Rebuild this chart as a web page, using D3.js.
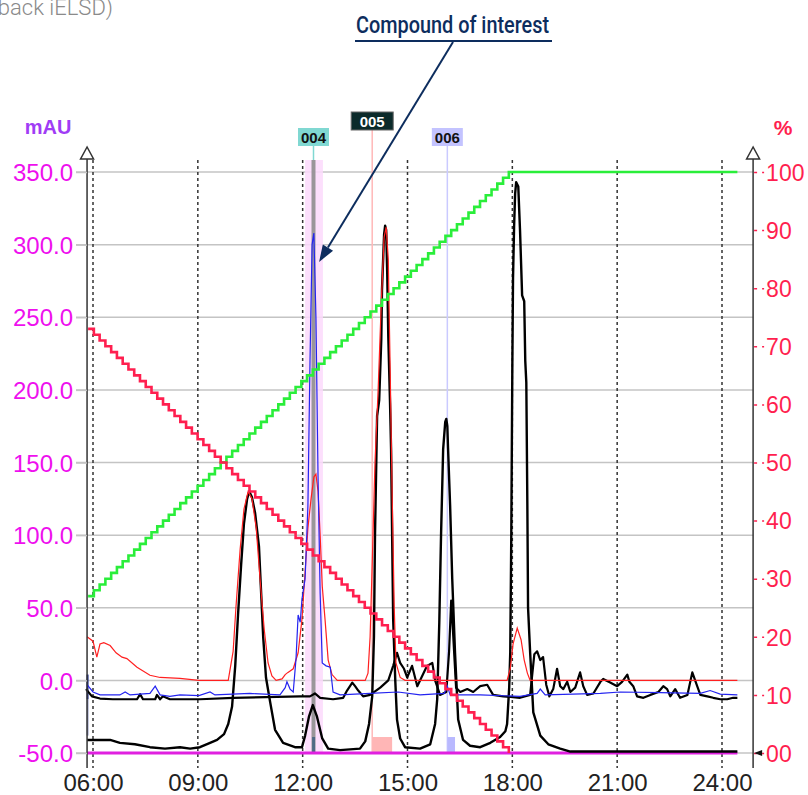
<!DOCTYPE html>
<html><head><meta charset="utf-8">
<script src="https://cdn.jsdelivr.net/npm/d3@7/dist/d3.min.js"></script>
<style>body{margin:0;background:#fff}svg{display:block}</style>
</head><body><svg id="c" width="808" height="795"></svg>
<script>
// ---------- data ----------
const timeTicks = [6, 9, 12, 15, 18, 21, 24];
const mauTicks = [350, 300, 250, 200, 150, 100, 50, 0, -50];
const pctTicks = [100, 90, 80, 70, 60, 50, 40, 30, 20, 10, 0];

const gradientB = [[5.86, 27], [17.9, 100], [24.44, 100]];
const gradientA = [[5.86, 73], [17.9, 0]];
const baselineMagenta = [[5.83, -50], [24.44, -50]];

const uvRed = [[5.83,30],[6.00,27],[6.11,16],[6.20,25],[6.31,26],[6.49,24],[6.66,19],[6.83,16],[6.97,15],[7.26,9],[7.63,3.5],[7.92,2],[8.49,1.4],[9.03,0],
 [9.87,0],[10.01,20],[10.09,50],[10.21,90],[10.32,118],[10.44,130],[10.55,125],[10.67,105],[10.78,70],[10.90,35],[11.01,12],[11.12,3],[11.24,0],
 [11.41,1],[11.50,4],[11.58,5.5],[11.73,8],[11.87,19],[11.98,42],[12.07,75],[12.15,105],[12.24,125],[12.32,140],[12.38,142],[12.44,130],[12.50,100],[12.56,65],[12.64,42],[12.73,14],[12.84,4],[12.99,0],
 [13.79,0],[13.87,5],[13.93,30],[13.99,80],[14.07,150],[14.16,200],[14.25,260],[14.33,305],[14.39,312],[14.45,290],[14.50,220],[14.56,130],[14.62,50],[14.67,12],[14.79,2],[14.93,0],
 [17.85,0],[17.94,8],[18.02,25],[18.14,36],[18.25,28],[18.34,14],[18.43,5],[18.51,0],[24.44,0]];

const uvBlue = [[5.83,-3],[6.00,-8],[6.20,-10],[6.77,-10],[6.92,-8],[7.06,-10],[7.63,-9],[7.78,-4],[7.92,-10],[8.20,-11],[8.49,-10],[9.03,-10.5],[9.35,-8],[9.49,-10],[10.49,-9],
 [11.35,-10],[11.50,-5],[11.55,-1],[11.64,-6],[11.73,-8],[11.81,15],[11.87,45],[11.93,40],[11.98,56],[12.07,70],[12.15,120],[12.21,220],[12.27,300],[12.32,308],[12.38,250],[12.44,140],[12.50,60],[12.56,12],[12.67,10],[12.79,9],[12.87,-8],
 [13.07,-10],[13.93,-9],[14.73,-8],[15.36,-10],[16.05,-9],[16.14,-4],[16.22,-10],[17.08,-10],[18.22,-11],[18.71,-9],[18.80,-6],[18.94,-10],[20.52,-9],[21.09,-8],[22.23,-8.5],[23.38,-9],[23.66,-7],[23.95,-9.5],[24.44,-10]];

const traceUpper = [[5.80,-6],[5.97,-11],[6.20,-12.5],[6.57,-13],[7.26,-13],[7.35,-9.5],[7.43,-13],[7.78,-13],[7.83,-10],[7.92,-13],[8.00,-11],[8.20,-13],[9.06,-13],[10.01,-12],[11.93,-11],[12.21,-11],[12.35,-9],[12.50,-12],[12.87,-13],
 [13.16,-12],[13.27,-7],[13.42,-1.5],[13.50,-4],[13.59,-7],[13.73,-11],[13.93,-10],[14.22,-5],[14.45,0],[14.59,10],[14.70,19],[14.79,12],[14.90,8],[14.99,2],[15.13,10],[15.28,-4],[15.42,3],[15.56,10],[15.71,12],[15.79,0],[15.93,-10],
 [16.11,-8],[16.19,20],[16.25,55],[16.31,30],[16.39,-5],[16.51,-8],[16.71,-6],[16.88,-8],[17.08,-4],[17.28,-3],[17.45,-10],[17.74,-11],[18.22,-12],[18.51,-10],[18.63,18],[18.71,20],[18.80,14],[18.88,16],[18.97,-3],[19.06,-11],
 [19.17,-6],[19.28,8],[19.37,-4],[19.46,-6],[19.57,-1],[19.66,-8],[19.80,-5],[19.94,5.5],[20.03,-4],[20.14,-10],[20.32,-9],[20.52,-1],[20.60,1],[20.80,-1.5],[21.00,-4],[21.14,-1],[21.29,4],[21.35,-1],[21.46,-4],[21.57,-11],
 [21.75,-12],[21.95,-10],[22.18,-8],[22.32,-4],[22.43,-6],[22.52,-11],[22.66,-6],[22.80,-12],[23.01,-10],[23.15,5.5],[23.29,-4],[23.38,-10],[23.58,-11],[23.75,-12],[23.95,-13],[24.15,-13],[24.32,-12],[24.44,-12]];

const elsd = [[5.83,-41],[6.20,-41],[6.49,-41],[6.77,-43],[7.20,-44],[7.63,-46],[8.06,-47],[8.49,-46],[8.78,-47],[9.06,-46],[9.35,-43],[9.55,-41],[9.75,-37],[9.87,-30],[9.98,-18],
 [10.07,10],[10.15,45],[10.24,80],[10.32,108],[10.41,125],[10.47,130],[10.55,126],[10.64,115],[10.75,92],[10.87,30],[10.95,2],[11.07,-15],[11.21,-34],[11.44,-43],[11.78,-46],
 [11.98,-46],[12.07,-38],[12.18,-25],[12.29,-17],[12.41,-25],[12.56,-40],[12.73,-47],[13.07,-48],[13.64,-47],[13.79,-42],[13.90,-30],[13.99,-11],
 [14.04,30],[14.07,100],[14.13,182],[14.19,193],[14.25,235],[14.27,269],[14.33,307],[14.36,313],[14.39,310],[14.42,280],[14.45,237],[14.50,191],[14.53,159],[14.56,100],[14.59,42],[14.65,0],[14.70,-27],[14.79,-40],[14.93,-46],
 [15.36,-47],[15.65,-44],[15.79,-30],[15.85,-13],[15.91,40],[15.96,100],[16.02,159],[16.08,178],[16.11,180],[16.14,175],[16.16,160],[16.22,120],[16.28,70],[16.36,19],[16.45,-27],[16.59,-41],[16.79,-45],
 [17.08,-46],[17.37,-43],[17.65,-39],[17.80,-35],[17.85,-30],[17.91,-5],[17.94,19],[17.97,100],[18.00,216],[18.02,277],[18.05,312],[18.08,335],[18.11,343],[18.17,340],[18.22,310],[18.28,265],[18.34,261],[18.37,220],[18.40,205],[18.43,120],[18.45,50],[18.51,19],
 [18.60,-22],[18.80,-38],[19.03,-44],[19.37,-47],[19.66,-49],[24.44,-49]];

const fractionIds = ["004", "005", "006"];
const fractionTimes = [12.31, 13.99, 16.14];
const fractionCollectStart = [12.27, 13.99, 16.14];
const fractionCollectEnd = [12.35, 14.56, 16.36];
const highlightBand = [12.07, 12.58];
const annotationText = "Compound of interest";
const annotationTarget = [12.47, 288];

// ---------- scales ----------
const svg = d3.select("#c");
const x = d3.scaleLinear().domain([6, 24]).range([93, 722]);
const yL = d3.scaleLinear().domain([-50, 350]).range([753, 172]);
const yR = d3.scaleLinear().domain([0, 100]).range([753, 172]);
const xLeft = x(5.83), xRight = x(24.89);
const topY = 160, botY = 768;
const FONT = "'Liberation Sans', Arial, sans-serif";

// top-left cut text
svg.append("text").attr("x", 113).attr("y", 15).attr("text-anchor", "end")
  .attr("font-family", "Roboto, sans-serif").attr("font-weight", 300).attr("font-size", 22)
  .attr("fill", "#8a8a8a").text("(UV feedback iELSD)");

// gridlines
svg.append("g").selectAll("line").data(mauTicks).join("line")
  .attr("x1", 76).attr("x2", xRight).attr("y1", d => yL(d)).attr("y2", d => yL(d))
  .attr("stroke", "#c4c4c4").attr("stroke-width", 1.5);

// highlight band for fraction 004
svg.append("rect").attr("x", x(highlightBand[0])).attr("width", x(highlightBand[1]) - x(highlightBand[0]))
  .attr("y", topY).attr("height", yL(-50) - topY).attr("fill", "#fbd9fb").attr("opacity", 0.85);

// fraction lines
const fracLineColor = ["#8a8a8a", "#ffb8b8", "#cacaff"];
const fracLineW = [4, 1.5, 1.5];
const fracLabelFill = ["#80d8d2", "#0b2a2a", "#c3c3ff"];
const fracTextFill = ["#111", "#fff", "#111"];
const fracLabelY = [128, 112, 128];
const fracLabelW = [31, 42, 31];
const fracCollectFill = ["#4e6a85", "#ffb6b6", "#b9b9ff"];
fractionIds.forEach((id, i) => {
  const fx = x(fractionTimes[i]);
  svg.append("line").attr("x1", fx).attr("x2", fx).attr("y1", fracLabelY[i] + 18).attr("y2", topY)
    .attr("stroke", i === 0 ? "#80d8d2" : fracLineColor[i]).attr("stroke-width", 1.5);
  svg.append("line").attr("x1", fx).attr("x2", fx).attr("y1", topY).attr("y2", yL(-50))
    .attr("stroke", fracLineColor[i]).attr("stroke-width", fracLineW[i]).attr("opacity", i === 0 ? 0.85 : 1);
  svg.append("rect").attr("x", x(fractionCollectStart[i])).attr("width", Math.max(3, x(fractionCollectEnd[i]) - x(fractionCollectStart[i])))
    .attr("y", yL(-39)).attr("height", yL(-50) - yL(-39)).attr("fill", fracCollectFill[i]);
});

// dashed verticals
svg.append("g").selectAll("line").data(timeTicks).join("line")
  .attr("x1", d => x(d)).attr("x2", d => x(d)).attr("y1", topY).attr("y2", botY)
  .attr("stroke", "#333").attr("stroke-width", 1.5).attr("stroke-dasharray", "3,3");

// start marker at left
svg.append("line").attr("x1", xLeft + 0.5).attr("x2", xLeft + 0.5).attr("y1", yL(4)).attr("y2", yL(-13)).attr("stroke", "#1a2a8a").attr("stroke-width", 2);
svg.append("line").attr("x1", xLeft + 0.5).attr("x2", xLeft + 0.5).attr("y1", yL(-13)).attr("y2", yL(-38)).attr("stroke", "#9aa0c8").attr("stroke-width", 2);

// series lines
const lineL = d3.line().x(d => x(d[0])).y(d => yL(d[1]));
svg.append("path").datum(baselineMagenta).attr("d", lineL).attr("fill", "none").attr("stroke", "#e020e0").attr("stroke-width", 3);
svg.append("path").datum(elsd).attr("d", lineL).attr("fill", "none").attr("stroke", "#000").attr("stroke-width", 2.4).attr("stroke-linejoin", "round");
svg.append("path").datum(traceUpper).attr("d", lineL).attr("fill", "none").attr("stroke", "#000").attr("stroke-width", 2.2).attr("stroke-linejoin", "round");
svg.append("path").datum(uvRed).attr("d", lineL).attr("fill", "none").attr("stroke", "#ff2020").attr("stroke-width", 1.2);
svg.append("path").datum(uvBlue).attr("d", lineL).attr("fill", "none").attr("stroke", "#2424f0").attr("stroke-width", 1.2);

// stair-rendered gradient lines
function curveStair(context) {
  let pts;
  return {
    areaStart() {}, areaEnd() {},
    lineStart() { pts = []; },
    point(px, py) { pts.push([+px, +py]); },
    lineEnd() {
      if (!pts.length) return;
      context.moveTo(pts[0][0], pts[0][1]);
      for (let i = 1; i < pts.length; i++) {
        const [x0, y0] = pts[i - 1], [x1, y1] = pts[i];
        if (Math.abs(y1 - y0) < 0.5) { context.lineTo(x1, y1); continue; }
        const n = Math.max(1, Math.round(Math.abs(y1 - y0) / 5.8));
        for (let k = 1; k <= n; k++) {
          const xk = x0 + (x1 - x0) * k / n, yk = y0 + (y1 - y0) * k / n, yp = y0 + (y1 - y0) * (k - 1) / n;
          context.lineTo(xk, yp); context.lineTo(xk, yk);
        }
      }
    }
  };
}
const lineR = d3.line().x(d => x(d[0])).y(d => yR(d[1])).curve(curveStair);
svg.append("path").datum(gradientB).attr("d", lineR).attr("fill", "none").attr("stroke", "#2aee3a").attr("stroke-width", 2.6);
svg.append("path").datum(gradientA).attr("d", lineR).attr("fill", "none").attr("stroke", "#ff1f4f").attr("stroke-width", 2.6);

// fraction labels
fractionIds.forEach((id, i) => {
  const fx = x(fractionTimes[i]);
  svg.append("rect").attr("x", fx - fracLabelW[i] / 2).attr("y", fracLabelY[i]).attr("width", fracLabelW[i]).attr("height", 18)
    .attr("fill", fracLabelFill[i]).attr("stroke", i === 1 ? "#666" : "none");
  svg.append("text").attr("x", fx).attr("y", fracLabelY[i] + 14.5).attr("text-anchor", "middle")
    .attr("font-family", FONT).attr("font-weight", "bold").attr("font-size", 15).attr("fill", fracTextFill[i]).text(id);
});

// axes lines with arrows
[xLeft, xRight].forEach(ax => {
  svg.append("line").attr("x1", ax).attr("x2", ax).attr("y1", 159).attr("y2", botY).attr("stroke", "#333").attr("stroke-width", 1.5);
  svg.append("path").attr("d", `M${ax},147 L${ax - 6.5},159 L${ax + 6.5},159 Z`).attr("fill", "#fff").attr("stroke", "#333").attr("stroke-width", 1.5);
});

// left axis
const gL = svg.append("g").attr("transform", `translate(${xLeft},0)`)
  .call(d3.axisLeft(yL).tickValues(mauTicks).tickFormat(d => d.toFixed(1)).tickSize(11).tickPadding(3));
gL.select(".domain").remove();
gL.selectAll(".tick line").attr("stroke", "#c4c4c4").attr("stroke-width", 1.5);
gL.selectAll(".tick text").attr("fill", "#ee10ee").attr("font-family", FONT).attr("font-size", 24).attr("dy", "0.36em");
svg.append("text").attr("x", 48).attr("y", 134).attr("text-anchor", "middle").attr("font-family", FONT)
  .attr("font-weight", "bold").attr("font-size", 20).attr("fill", "#a03cf5").text("mAU");

// right axis
const gR = svg.append("g").attr("transform", `translate(${xRight + 1},0)`)
  .call(d3.axisRight(yR).tickValues(pctTicks).tickFormat(d => String(d).padStart(2, "0")).tickSize(10).tickPadding(2));
gR.select(".domain").remove();
gR.selectAll(".tick line").attr("stroke", "#ff1f4f").attr("stroke-width", 1.5).attr("stroke-dasharray", "3,5,2,10");
gR.selectAll(".tick text").attr("fill", "#ff1f4f").attr("font-family", FONT).attr("font-size", 23).attr("dy", "0.36em");
svg.append("text").attr("x", 783).attr("y", 135).attr("text-anchor", "middle").attr("font-family", FONT)
  .attr("font-weight", "bold").attr("font-size", 21).attr("fill", "#ff1f4f").text("%");
svg.append("path").attr("d", `M${xRight + 1},${yR(0)} L${xRight + 9},${yR(0) - 3} L${xRight + 9},${yR(0) + 3} Z`).attr("fill", "#111");

// bottom axis
const gB = svg.append("g").attr("transform", `translate(0,${botY})`)
  .call(d3.axisBottom(x).tickValues(timeTicks).tickFormat(d => String(d).padStart(2, "0") + ":00").tickSize(0).tickPadding(6));
gB.select(".domain").remove();
gB.selectAll(".tick text").attr("fill", "#222").attr("font-family", FONT).attr("font-size", 24);

// annotation
const tip = [x(annotationTarget[0]), yL(annotationTarget[1])];
const start = [453, 42];
const dx = tip[0] - start[0], dy = tip[1] - start[1], len = Math.hypot(dx, dy);
const ux = dx / len, uy = dy / len;
const base = [tip[0] - 17 * ux, tip[1] - 17 * uy];
svg.append("line").attr("x1", start[0]).attr("y1", start[1]).attr("x2", base[0]).attr("y2", base[1])
  .attr("stroke", "#0d2d5e").attr("stroke-width", 2);
svg.append("path").attr("d", `M${tip[0]},${tip[1]} L${base[0] + 6 * -uy},${base[1] + 6 * ux} L${base[0] - 6 * -uy},${base[1] - 6 * ux} Z`)
  .attr("fill", "#0d2d5e");
svg.append("line").attr("x1", 355).attr("x2", 552).attr("y1", 41).attr("y2", 41).attr("stroke", "#0d2d5e").attr("stroke-width", 2);
svg.append("text").attr("x", 356).attr("y", 33).attr("font-family", "Roboto, sans-serif").attr("font-weight", 500)
  .attr("font-size", 24).attr("textLength", 193).attr("lengthAdjust", "spacingAndGlyphs").attr("fill", "#0d2d5e").text(annotationText);
</script>
</body></html>
